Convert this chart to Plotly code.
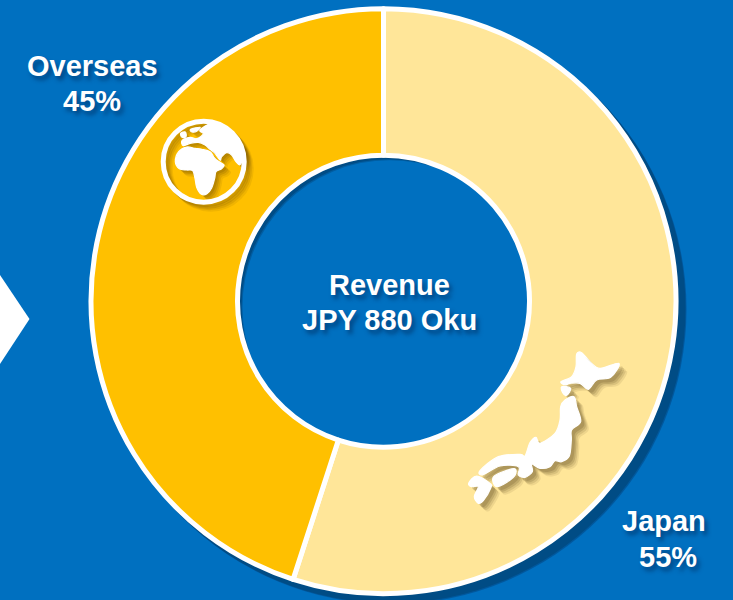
import plotly.graph_objects as go

W, H = 733, 600
categories = ["Japan", "Overseas"]
shares = [55, 45]
colors = ["#FFE699", "#FFC000"]
centre_title = "Revenue"
centre_value = "JPY 880 Oku"
BG = "#0070C0"
DARK = "#004C85"
FONT = "Liberation Sans"
SHADOW = "3px 4px 4px rgba(0,35,80,0.55)"
CX, CY, R, RH = 383.5, 301.2, 292.5, 146


def px(x):
    return x / W


def py(y):
    return 1 - y / H


def smooth(points, ox, oy, s, dx=0, dy=0):
    # closed Catmull-Rom outline through the traced points
    pts = [(px(ox + a / s + dx), py(oy + b / s + dy)) for a, b in points]
    n = len(pts)
    d = f"M{pts[0][0]:.5f},{pts[0][1]:.5f}"
    k = 1 / 6
    for i in range(n):
        p0, p1, p2, p3 = pts[i - 1], pts[i], pts[(i + 1) % n], pts[(i + 2) % n]
        c1 = (p1[0] + (p2[0] - p0[0]) * k, p1[1] + (p2[1] - p0[1]) * k)
        c2 = (p2[0] - (p3[0] - p1[0]) * k, p2[1] - (p3[1] - p1[1]) * k)
        d += f" C{c1[0]:.5f},{c1[1]:.5f} {c2[0]:.5f},{c2[1]:.5f} {p2[0]:.5f},{p2[1]:.5f}"
    return d + " Z"


def circle(cx, cy, r, **kw):
    return dict(type="circle", xref="paper", yref="paper",
                x0=px(cx - r), x1=px(cx + r), y0=py(cy + r), y1=py(cy - r), **kw)


def blob(path, fill, stroke=0):
    return dict(type="path", xref="paper", yref="paper", layer="above",
                path=path, fillcolor=fill, line=dict(color=fill, width=stroke))


# decorative icon outlines (pixels of the zoomed crops)
japan = [
    [(380,42),(395,38),(420,65),(450,85),(507,70),(482,112),(440,120),(415,148),(390,130),(360,130),(345,135),(333,125),(365,110),(378,80)],
    [(335,140),(362,145),(350,166),(338,158)],
    [(345,180),(372,170),(380,200),(392,245),(365,270),(364,300),(358,348),(335,365),(315,362),(300,380),(270,385),(245,372),(247,395),(225,412),(205,405),(205,380),(150,378),(100,404),(90,392),(145,350),(210,343),(225,348),(240,308),(258,292),(270,310),(315,280),(330,240),(332,200)],
    [(133,408),(192,386),(192,410),(150,438),(133,435)],
    [(56,430),(80,408),(120,430),(122,445),(100,482),(85,490),(73,470),(85,440),(65,440)],
]
globe = [
    [(106,185),(116,155),(140,141),(165,145),(185,148),(210,155),(222,172),(235,184),(252,195),(244,207),(228,215),(224,235),(215,264),(200,282),(183,282),(170,262),(165,235),(158,212),(140,210),(118,206)],
    [(180,90),(215,70),(255,80),(285,108),(308,140),(312,168),(300,194),(288,185),(275,165),(260,158),(245,170),(240,180),(225,160),(210,148),(195,135),(175,127),(150,130),(130,137),(126,122),(150,112),(170,116),(190,102)],
    [(122,100),(136,96),(138,110),(126,112)],
    [(152,88),(180,82),(170,94),(156,96)],
]

shapes = [
    dict(type="path", xref="paper", yref="paper", layer="below",
         path=f"M{px(0)},{py(275)} L{px(29.5)},{py(319)} L{px(0)},{py(364)} Z",
         fillcolor="white", line_width=0),
    circle(CX + 8, CY + 8, R + 2.5, layer="below", fillcolor="rgba(0,60,115,0.45)", line_width=0),
    circle(CX + 7, CY + 7, R + 2.5, layer="below", fillcolor=DARK, line_width=0),
    # hole: the ring's shadow falls on its upper-left rim, the ring itself hides the overflow
    circle(CX, CY, RH + 1, layer="below", fillcolor=DARK, line_width=0),
    circle(CX + 5, CY + 5, RH + 1, layer="below", fillcolor="rgba(0,112,192,0.5)", line_width=0),
    circle(CX + 6, CY + 6, RH + 1, layer="below", fillcolor=BG, line_width=0),
]
# soft icon shadows, then icons, above the ring
for off, alpha in ((8, 0.10), (6.5, 0.14), (5, 0.18), (3.5, 0.2)):
    for pts in japan:
        shapes.append(blob(smooth(pts, 450, 340, 3, off, off), f"rgba(90,70,30,{alpha})"))
for pts in japan:
    shapes.append(blob(smooth(pts, 450, 340, 3), "white", 1.2))
GX, GY = 203.7, 161.7
for off, alpha in ((7, 0.10), (5.5, 0.14), (4, 0.18), (2.5, 0.2)):
    shapes.append(circle(GX + off, GY + off, 40.5, layer="above",
                         line=dict(color=f"rgba(110,75,0,{alpha})", width=5)))
    for pts in globe:
        shapes.append(blob(smooth(pts, 140, 100, 3, off, off), f"rgba(110,75,0,{alpha})"))
shapes.append(circle(GX, GY, 40.5, layer="above", line=dict(color="white", width=5)))
for pts in globe:
    shapes.append(blob(smooth(pts, 140, 100, 3), "white", 1.2))

fig = go.Figure(go.Pie(
    labels=categories, values=shares, hole=RH / R, sort=False, direction="clockwise",
    rotation=0, textinfo="none", hoverinfo="label+percent",
    marker=dict(colors=colors, line=dict(color="white", width=5)),
    domain=dict(x=[px(CX - R), px(CX + R)], y=[py(CY + R), py(CY - R)]),
    showlegend=False,
))


def label(text, x, y):
    return dict(text=text, xref="paper", yref="paper", x=px(x), y=py(y),
                xanchor="center", yanchor="middle", showarrow=False, align="center",
                font=dict(family=FONT, size=29, color="white", weight="bold", shadow=SHADOW))


fig.update_layout(
    width=W, height=H, margin=dict(l=0, r=0, t=0, b=0),
    paper_bgcolor=BG, plot_bgcolor=BG, shapes=shapes,
    annotations=[
        label(categories[1], 92, 66),
        label(f"{shares[1]}%", 92, 101),
        label(categories[0], 664, 521),
        label(f"{shares[0]}%", 668, 557),
        label(centre_title, 389, 285),
        label(centre_value, 389, 320),
    ],
)
fig.write_html("out.html", config=dict(displayModeBar=False),
               post_script="document.body.style.margin='0';document.documentElement.style.overflow='hidden';document.body.style.background='#0070C0';")
